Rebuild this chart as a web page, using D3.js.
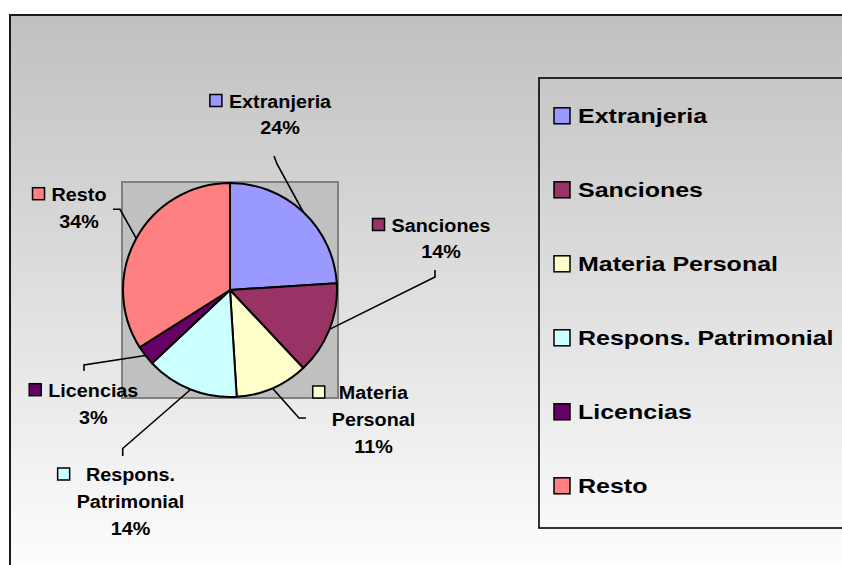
<!DOCTYPE html>
<html>
<head>
<meta charset="utf-8">
<script src="https://cdn.jsdelivr.net/npm/d3@7"></script>
<style>
  body { margin: 0; background: #fff; }
  text { font-family: "Liberation Sans", Arial, sans-serif; font-weight: bold; fill: #000; }
</style>
</head>
<body>
<svg id="chart" width="842" height="565"></svg>
<script>
// data
var categories = ["Extranjeria", "Sanciones", "Materia Personal", "Respons. Patrimonial", "Licencias", "Resto"];
var values = [24, 14, 11, 14, 3, 34];
var colors = ["#9999ff", "#993366", "#ffffcc", "#ccffff", "#660066", "#ff8080"];
// how the pie labels wrap
var labelLines = [["Extranjeria"], ["Sanciones"], ["Materia", "Personal"], ["Respons.", "Patrimonial"], ["Licencias"], ["Resto"]];

var svg = d3.select("#chart");

var defs = svg.append("defs");
var grad = defs.append("linearGradient")
    .attr("id", "bg")
    .attr("x1", 0).attr("y1", 0).attr("x2", 0).attr("y2", 1);
grad.append("stop").attr("offset", "0%").attr("stop-color", "#c0c0c0");
grad.append("stop").attr("offset", "100%").attr("stop-color", "#ffffff");

// chart area
svg.append("rect")
    .attr("x", 10).attr("y", 15)
    .attr("width", 850).attr("height", 570)
    .attr("fill", "url(#bg)")
    .attr("stroke", "#1a1a1a")
    .attr("stroke-width", 2);

// plot area square
var cx = 230, cy = 290, r = 107;
svg.append("rect")
    .attr("x", 122).attr("y", 182)
    .attr("width", 216).attr("height", 216)
    .attr("fill", "#c0c0c0")
    .attr("stroke", "#808080")
    .attr("stroke-width", 2);

var pie = d3.pie().sort(null).value(function (d) { return d; });
var arcs = pie(values);
var arc = d3.arc().innerRadius(0).outerRadius(r);
var edge = d3.arc().innerRadius(r).outerRadius(r);

var g = svg.append("g").attr("transform", "translate(" + cx + "," + cy + ")");
g.selectAll("path")
    .data(arcs)
    .enter().append("path")
    .attr("d", arc)
    .attr("fill", function (d, i) { return colors[i]; })
    .attr("stroke", "#000")
    .attr("stroke-width", 2)
    .attr("stroke-linejoin", "round");

// label placement: text centre, first baseline, leader elbow and end
var labelPos = [
  { x: 280, y: 107.5, elbow: [277, 164], end: [274, 156] },
  { x: 441, y: 231.5, elbow: [435, 277], end: [435, 270] },
  { x: 373.5, y: 399, elbow: [299, 418], end: [306, 418] },
  { x: 130.5, y: 481, elbow: [122.7, 448.5], end: [122.7, 456] },
  { x: 93.3, y: 396.7, elbow: [84, 365], end: [84, 371] },
  { x: 79, y: 200.7, elbow: [120, 209.3], end: [113, 209.3] }
];
var total = d3.sum(values);
var pct = d3.format(".0%");
var lineGap = 26.8, sx = 1.07, fs = 18.5, keyS = 12;

// leader lines
arcs.forEach(function (d, i) {
  var a = (d.startAngle + d.endAngle) / 2;
  var p0 = [cx + r * Math.sin(a), cy - r * Math.cos(a)];
  var lp = labelPos[i];
  svg.append("path")
      .attr("d", d3.line()([p0, lp.elbow, lp.end]))
      .attr("fill", "none")
      .attr("stroke", "#000")
      .attr("stroke-width", 1.6);
});

// pie labels
arcs.forEach(function (d, i) {
  var lp = labelPos[i];
  var lines = labelLines[i].concat([pct(d.value / total)]);
  var maxW = 0;
  lines.forEach(function (s, k) {
    var t = svg.append("text")
        .attr("transform", "translate(" + lp.x + "," + (lp.y + k * lineGap) + ") scale(" + sx + ",1)")
        .attr("text-anchor", "middle")
        .style("font-size", fs + "px")
        .text(s);
    maxW = Math.max(maxW, t.node().getComputedTextLength() * sx);
  });
  svg.append("rect")
      .attr("x", lp.x - maxW / 2 - 7 - keyS)
      .attr("y", lp.y - 13)
      .attr("width", keyS).attr("height", keyS)
      .attr("fill", colors[i])
      .attr("stroke", "#000")
      .attr("stroke-width", 1.5);
});

// legend
svg.append("rect")
    .attr("x", 539).attr("y", 78)
    .attr("width", 320).attr("height", 450)
    .attr("fill", "none")
    .attr("stroke", "#000")
    .attr("stroke-width", 1.6);

var ly = d3.scalePoint().domain(categories).range([123.3, 493.3]);
var leg = svg.append("g").selectAll("g")
    .data(categories)
    .enter().append("g")
    .attr("transform", function (d) { return "translate(0," + ly(d) + ")"; });
leg.append("rect")
    .attr("x", 554).attr("y", -15.5)
    .attr("width", 16).attr("height", 16)
    .attr("fill", function (d, i) { return colors[i]; })
    .attr("stroke", "#000")
    .attr("stroke-width", 1.5);
leg.append("text")
    .attr("transform", "translate(578,0) scale(1.19,1)")
    .style("font-size", "21px")
    .text(function (d) { return d; });
</script>
</body>
</html>
